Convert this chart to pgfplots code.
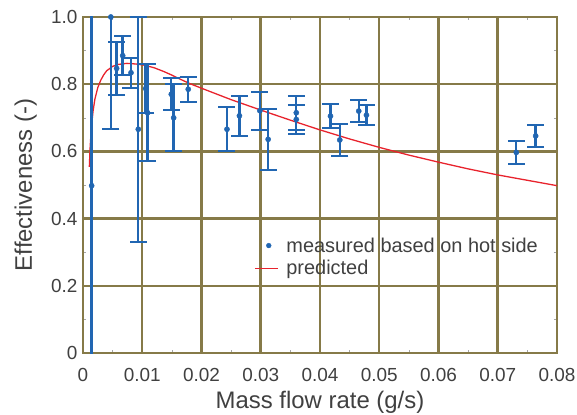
\documentclass[border=0pt]{standalone}
\usepackage{fontspec}
\setmainfont{Liberation Sans}
\usepackage{pgfplots}
\pgfplotsset{compat=1.18}
\definecolor{gridol}{RGB}{134,122,72}
\definecolor{mblue}{RGB}{33,102,178}
\definecolor{pred}{RGB}{232,35,45}
\definecolor{txt}{RGB}{64,64,64}

\pgfplotstableread{
x y e
0.00146 0.498 0.55
0.0047 1.0 0.334
0.00568 0.847 0.079
0.0067 0.885 0.059
0.0081 0.834 0.044
0.00933 0.666 0.335
0.01057 0.787 0.073
0.0109 0.715 0.145
0.0149 0.77 0.047
0.0153 0.70 0.10
0.01776 0.785 0.037
0.0243 0.666 0.066
0.0264 0.706 0.06
0.02985 0.721 0.056
0.03125 0.636 0.09
0.0360 0.715 0.05
0.0360 0.695 0.043
0.04177 0.705 0.036
0.04334 0.634 0.047
0.04654 0.72 0.032
0.04784 0.708 0.03
0.07313 0.597 0.035
0.0764 0.646 0.034
}\measured

\begin{document}
\begin{tikzpicture}
\begin{axis}[
  at={(0,0)}, anchor=south west,
  scale only axis, width=474bp, height=336bp,
  xmin=0, xmax=0.08, ymin=0, ymax=1,
  xtick={0,0.01,0.02,0.03,0.04,0.05,0.06,0.07,0.08},
  xticklabels={0,0.01,0.02,0.03,0.04,0.05,0.06,0.07,0.08},
  ytick={0,0.2,0.4,0.6,0.8,1},
  yticklabels={0,0.2,0.4,0.6,0.8,1.0},
  scaled x ticks=false,
  grid=major, major grid style={gridol, line width=2.5bp},
  axis line style={gridol, line width=2.5bp},
  major tick length=0pt,
  minor tick num=1, minor tick length=3bp,
  minor tick style={black!35, line width=0.4bp},
  tick label style={font=\fontsize{19}{22}\selectfont, text=txt},
  xticklabel style={yshift=-12bp},
  yticklabel style={xshift=-2bp},
  xlabel={Mass flow rate (g/s)}, ylabel={Effectiveness (-)},
  label style={font=\fontsize{24}{28}\selectfont, text=txt},
  xlabel style={at={(axis description cs:0.5,-0.147)}, anchor=center},
  ylabel style={at={(axis description cs:-0.121,0.5)}, anchor=center},
  reverse legend,
  legend cell align=left,
  legend style={at={(0.3606,0.347)}, anchor=north west, draw=none, fill=none,
    inner sep=0pt, font=\fontsize{20}{23}\selectfont, text=txt,
    nodes={inner ysep=1bp, inner xsep=8bp}, row sep=5bp},
]
\addplot[pred, line width=1.3bp, legend image code/.code={\draw[pred, line width=1.3bp] (0bp,0bp) -- (23bp,0bp);}] coordinates {
 (0.00107,0.554) (0.0012,0.61) (0.0014,0.67) (0.0017,0.72) (0.002,0.755)
 (0.0025,0.79) (0.003,0.812) (0.0035,0.828) (0.004,0.840) (0.005,0.853)
 (0.006,0.859) (0.0074,0.862) (0.009,0.860) (0.0102,0.857) (0.012,0.849)
 (0.0136,0.838) (0.015,0.827) (0.0164,0.815) (0.018,0.802) (0.02,0.788)
 (0.025,0.754) (0.03,0.723) (0.035,0.693) (0.04,0.664) (0.045,0.637)
 (0.05,0.612) (0.055,0.589) (0.06,0.568) (0.065,0.548) (0.07,0.530)
 (0.075,0.514) (0.08,0.498)};
\addlegendentry{predicted}
\addplot[mblue, only marks, mark=*, mark size=2.6bp, mark options={mblue},
  legend image code/.code={\fill[mblue] (14bp,0bp) circle (2.4bp);},
  error bars/.cd, y dir=both, y explicit,
  error bar style={mblue, line width=2.4bp},
  error mark options={rotate=90, mblue, mark size=8.5bp, line width=2bp}]
  table[x=x, y=y, y error=e] {\measured};
\addlegendentry{measured based on hot side}
\end{axis}
\pgfresetboundingbox
\path (-83bp,-62bp) rectangle (494bp,353bp);
\end{tikzpicture}
\end{document}
